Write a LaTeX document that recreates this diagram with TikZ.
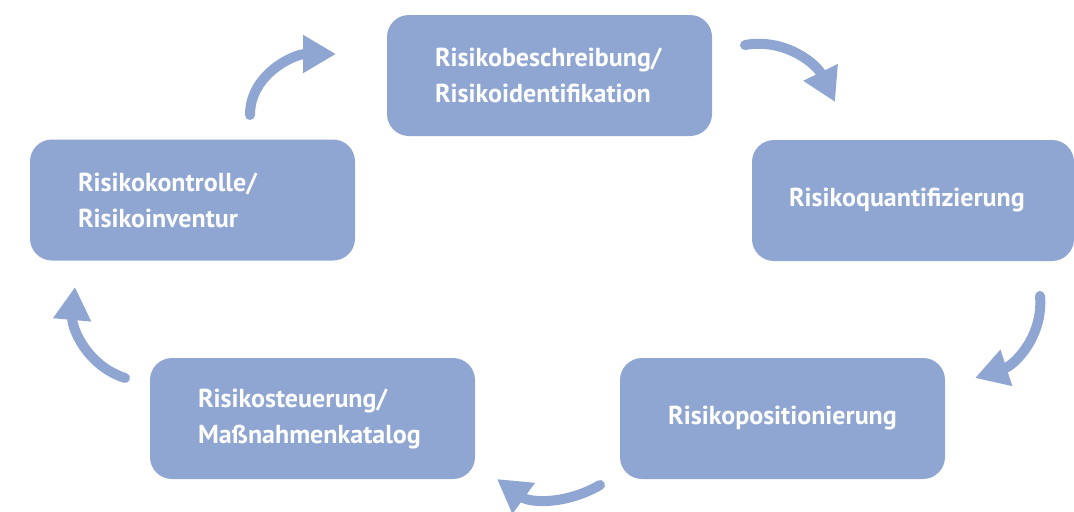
\documentclass[tikz,border=0pt]{standalone}
\usepackage{fontspec}
\setmainfont{PT Sans}
\usepackage{tikz}
\usetikzlibrary{arrows.meta, positioning}
\definecolor{boxblue}{RGB}{143,165,210}

\begin{document}
\begin{tikzpicture}[x=0.5pt, y=0.5pt,
    stepbox/.style={fill=boxblue, rounded corners=11pt, text=white,
        font=\fontsize{13}{18}\selectfont\bfseries, inner xsep=24pt,
        text width=114.5pt, minimum height=60.5pt},
    cyclearrow/.style={boxblue, line width=5pt, line cap=round,
        -{Triangle[length=16.5pt, width=18pt]}}]
    \useasboundingbox (0, 0) rectangle (1074, 511);

    % Steps of the cycle
    \node[stepbox, align=left] (ident) at (549.5, 435.5) {Risikobeschreibung/\\Risikoidentifikation};
    \node[stepbox, align=left, inner xsep=18.5pt, text width=124pt] (quant) at (913, 310.5) {Risikoquantifizierung};
    \node[stepbox, align=center] (pos) at (782.5, 92.5) {Risikopositionierung};
    \node[stepbox, align=left] (steuer) at (312.5, 92.5) {Risikosteuerung/\\Maßnahmenkatalog};
    \node[stepbox, align=left] (kontr) at (192.5, 311) {Risikokontrolle/\\Risikoinventur};

    % Arrow ends
    \coordinate (kontr-out) at (250, 396);
    \coordinate (ident-in) at (336, 457);
    \coordinate (ident-out) at (745, 466);
    \coordinate (quant-in) at (835, 409);
    \coordinate (quant-out) at (1040, 215);
    \coordinate (pos-in) at (975, 133);
    \coordinate (pos-out) at (600, 26);
    \coordinate (steuer-in) at (497, 32);
    \coordinate (steuer-out) at (125, 133);
    \coordinate (kontr-in) at (75, 224);

    % Arrows
    \draw[cyclearrow] (kontr-out) to[out=90, in=180] (ident-in);
    \draw[cyclearrow] (ident-out) to[out=10, in=116] (quant-in);
    \draw[cyclearrow] (quant-out) to[out=-85, in=18] (pos-in);
    \draw[cyclearrow] (pos-out) to[out=210, in=-36] (steuer-in);
    \draw[cyclearrow] (steuer-out) to[out=162, in=-95] (kontr-in);
\end{tikzpicture}
\end{document}
